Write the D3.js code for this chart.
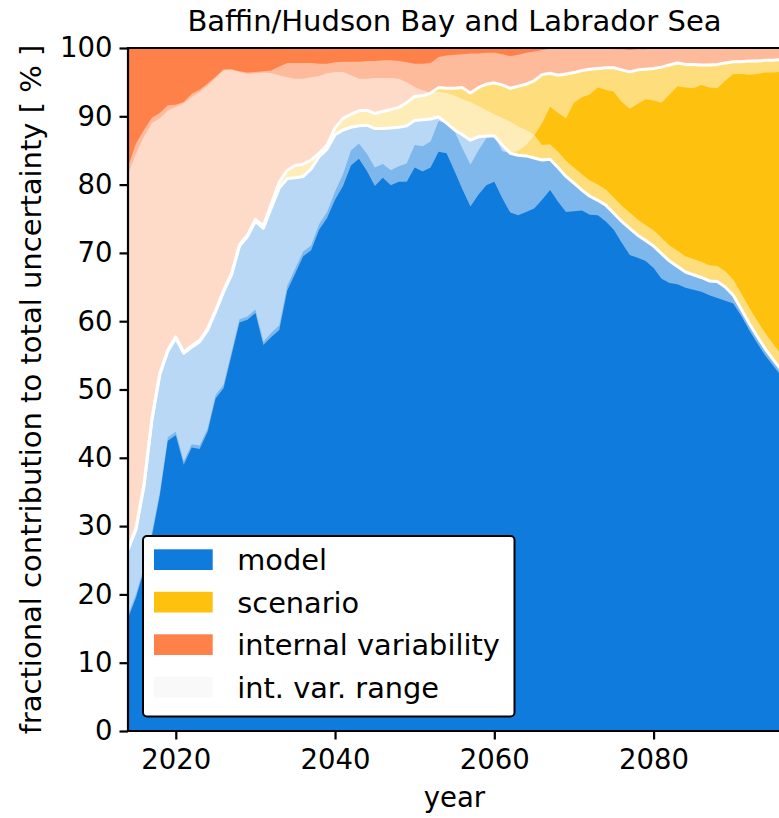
<!DOCTYPE html>
<html>
<head>
<meta charset="utf-8">
<script src="https://cdn.jsdelivr.net/npm/d3@7"></script>
<style>
  html, body { margin: 0; padding: 0; background: #fff; }
  svg { display: block; font-family: "DejaVu Sans", sans-serif; }
</style>
</head>
<body>
<svg id="chart" width="779" height="818"></svg>
<script>
// Years of the projection (annual values)
const years = [
  2014, 2015, 2016, 2017, 2018, 2019, 2020, 2021, 2022, 2023,
  2024, 2025, 2026, 2027, 2028, 2029, 2030, 2031, 2032, 2033,
  2034, 2035, 2036, 2037, 2038, 2039, 2040, 2041, 2042, 2043,
  2044, 2045, 2046, 2047, 2048, 2049, 2050, 2051, 2052, 2053,
  2054, 2055, 2056, 2057, 2058, 2059, 2060, 2061, 2062, 2063,
  2064, 2065, 2066, 2067, 2068, 2069, 2070, 2071, 2072, 2073,
  2074, 2075, 2076, 2077, 2078, 2079, 2080, 2081, 2082, 2083,
  2084, 2085, 2086, 2087, 2088, 2089, 2090, 2091, 2092, 2093,
  2094, 2095, 2096
];

// Fractional contribution of model uncertainty [%]
const model = [
  26.5, 29.5, 35.8, 45.5, 52.2, 55.6, 57.5, 55.3, 56.2, 57.0,
  58.7, 61.4, 64.3, 66.8, 71.0, 72.4, 74.6, 73.6, 76.6, 79.5,
  80.9, 81.0, 81.2, 82.3, 84.1, 85.2, 87.3, 88.0, 88.4, 88.6,
  88.7, 88.2, 88.2, 88.3, 88.4, 88.6, 89.4, 89.5, 89.6, 89.9,
  89.0, 88.0, 87.3, 86.5, 87.0, 87.1, 87.1, 85.8, 84.6, 84.3,
  84.2, 83.9, 83.6, 83.7, 82.5, 81.2, 80.2, 79.2, 78.3, 77.7,
  77.0, 75.8, 74.6, 73.6, 72.6, 71.8, 71.0, 69.9, 68.8, 68.0,
  67.2, 66.8, 66.4, 65.9, 65.8, 65.0, 63.8, 61.8, 59.7, 57.8,
  56.0, 54.4, 52.9
];

// Fractional contribution of scenario uncertainty [%]
const scenario = [
  0.2, 0.2, 0.2, 0.2, 0.2, 0.2, 0.2, 0.2, 0.2, 0.2,
  0.2, 0.2, 0.2, 0.2, 0.2, 0.2, 0.3, 0.4, 0.6, 0.9,
  1.2, 1.8, 1.8, 1.3, 0.5, 0.6, 1.0, 1.7, 1.9, 2.2,
  2.2, 2.2, 2.5, 2.7, 2.9, 3.4, 3.5, 3.5, 3.8, 4.3,
  5.1, 6.1, 6.9, 6.9, 7.2, 7.6, 7.8, 8.8, 9.5, 10.1,
  10.5, 11.3, 12.5, 12.6, 13.5, 15.0, 16.2, 17.5, 18.6, 19.3,
  20.1, 21.3, 22.2, 22.9, 24.2, 25.1, 26.0, 27.3, 28.7, 29.8,
  30.4, 30.8, 31.1, 31.6, 31.8, 32.8, 34.2, 36.2, 38.4, 40.3,
  42.2, 43.8, 45.4
];

// Range of the model / scenario boundary from the spread of internal variability
const modelLow = [
  16.5, 19.5, 23.5, 28.5, 34.5, 42.5, 43.3, 39.0, 41.5, 41.3,
  43.8, 48.7, 50.2, 55.0, 59.8, 60.2, 61.2, 56.5, 57.7, 58.7,
  64.5, 67.0, 69.5, 70.4, 73.4, 75.1, 77.8, 79.8, 82.8, 83.8,
  82.0, 79.8, 81.0, 79.9, 80.4, 80.4, 82.5, 81.9, 82.5, 84.8,
  84.6, 82.0, 79.3, 76.8, 78.5, 79.9, 80.4, 78.0, 75.9, 75.5,
  76.0, 76.5, 77.8, 79.2, 77.5, 76.0, 76.1, 76.2, 75.6, 75.5,
  74.6, 73.4, 71.5, 69.7, 69.3, 68.8, 67.8, 66.2, 65.6, 65.4,
  64.9, 64.6, 64.3, 63.8, 63.4, 63.0, 62.6, 60.8, 58.7, 56.8,
  55.0, 53.5, 52.0
];
const modelHigh = [
  81.5, 84.5, 87.0, 89.0, 89.7, 90.8, 91.4, 91.9, 92.8, 93.6,
  94.5, 95.6, 96.7, 96.8, 96.5, 96.2, 96.3, 96.4, 96.3, 96.0,
  95.7, 95.5, 95.5, 95.7, 95.9, 96.3, 96.5, 96.5, 96.0, 95.5,
  95.5, 95.6, 95.6, 95.6, 95.5, 95.0, 94.3, 93.8, 93.5, 93.6,
  93.4, 93.0, 92.5, 92.1, 91.5, 90.9, 90.3, 89.8, 89.2, 88.5,
  88.0, 87.3, 85.8, 85.9, 84.8, 83.5, 82.5, 81.5, 80.6, 80.0,
  79.3, 78.1, 76.9, 75.9, 74.9, 74.1, 73.3, 72.2, 71.1, 70.3,
  69.5, 69.1, 68.7, 68.2, 68.1, 67.3, 66.1, 64.1, 62.0, 60.1,
  58.3, 56.7, 55.2
];
const scenarioLow = [
  17.0, 20.0, 24.0, 29.0, 35.0, 43.0, 43.8, 39.5, 42.0, 41.8,
  44.3, 49.2, 50.7, 55.5, 60.3, 60.7, 61.7, 57.0, 58.3, 59.4,
  65.2, 67.7, 70.2, 71.1, 74.2, 76.0, 79.0, 81.5, 85.0, 86.0,
  84.5, 82.5, 83.0, 82.1, 82.7, 83.1, 85.8, 85.6, 86.3, 89.3,
  89.0, 87.8, 85.3, 82.9, 85.0, 86.8, 87.1, 84.9, 84.6, 85.0,
  85.8, 87.2, 89.0, 91.4, 90.5, 89.7, 92.0, 92.8, 93.2, 94.2,
  93.9, 93.6, 92.1, 91.1, 91.8, 92.5, 92.3, 92.0, 93.2, 94.4,
  94.2, 94.1, 94.6, 94.2, 94.1, 95.2, 96.2, 96.2, 96.1, 96.2,
  96.4, 96.4, 96.5
];
const scenarioHigh = [
  82.6, 86.0, 88.0, 89.8, 90.5, 91.6, 91.7, 92.1, 93.3, 93.9,
  94.8, 95.8, 96.9, 96.9, 96.6, 96.4, 96.5, 96.6, 96.7, 97.3,
  97.8, 97.8, 97.8, 97.8, 97.7, 97.7, 97.9, 98.0, 98.0, 98.0,
  98.1, 98.1, 98.2, 98.2, 98.1, 97.9, 97.7, 97.7, 97.8, 98.7,
  98.9, 99.0, 99.1, 99.2, 99.2, 99.3, 99.3, 99.1, 98.8, 99.0,
  99.3, 99.5, 99.7, 99.9, 100, 100, 100, 100, 100, 100,
  100, 99.8, 99.8, 99.7, 99.8, 99.8, 100, 100, 100, 100,
  100, 100, 100, 100, 100, 100, 100, 100, 100, 100,
  100, 100, 100
];

const xTicks = [2020, 2040, 2060, 2080];
const yTicks = [0, 10, 20, 30, 40, 50, 60, 70, 80, 90, 100];

const legendLabels = ["model", "scenario", "internal variability", "int. var. range"];
const colors = {
  model: "#0f7bdc",
  scenario: "#fec20e",
  internal: "#fe8149",
  range: "#f9f9f9"
};

const svg = d3.select("#chart");
const plot = { left: 128, right: 781, top: 48, bottom: 731 };

const x = d3.scaleLinear().domain([2014, 2096]).range([plot.left, plot.right]);
const y = d3.scaleLinear().domain([0, 100]).range([plot.bottom, plot.top]);

const total = model.map((m, i) => m + scenario[i]);
const zeros = years.map(() => 0);
const full = years.map(() => 100);

svg.append("defs").append("clipPath").attr("id", "plot-clip")
  .append("rect")
  .attr("x", plot.left).attr("y", plot.top)
  .attr("width", plot.right - plot.left).attr("height", plot.bottom - plot.top);

const band = (lo, hi) => d3.area()
  .x((d, i) => x(years[i]))
  .y0((d, i) => y(lo[i]))
  .y1((d, i) => y(hi[i]))(years);

const line = (vals) => d3.line()
  .x((d, i) => x(years[i]))
  .y((d, i) => y(vals[i]))(years);

const g = svg.append("g").attr("clip-path", "url(#plot-clip)");

// stacked contributions
g.append("path").attr("d", band(zeros, model)).attr("fill", colors.model);
g.append("path").attr("d", band(model, total)).attr("fill", colors.scenario);
g.append("path").attr("d", band(total, full)).attr("fill", colors.internal);

// internal variability ranges of both boundaries
g.append("path").attr("d", band(modelLow, modelHigh))
  .attr("fill", "#ffffff").attr("fill-opacity", 0.46);
g.append("path").attr("d", band(scenarioLow, scenarioHigh))
  .attr("fill", "#ffffff").attr("fill-opacity", 0.46);

// boundaries between components
g.append("path").attr("d", line(model))
  .attr("fill", "none").attr("stroke", "#fff").attr("stroke-width", 3)
  .attr("stroke-linejoin", "round");
g.append("path").attr("d", line(total))
  .attr("fill", "none").attr("stroke", "#fff").attr("stroke-width", 3)
  .attr("stroke-linejoin", "round");

// axes
const fontTick = 27.5;
const yAxis = d3.axisLeft(y).tickValues(yTicks).tickSize(8.5).tickPadding(7);
const xAxis = d3.axisBottom(x).tickValues(xTicks).tickFormat(d3.format("d"))
  .tickSize(8.5).tickPadding(9.5);

const ya = svg.append("g").attr("transform", `translate(${plot.left},0)`).call(yAxis);
const xa = svg.append("g").attr("transform", `translate(0,${plot.bottom})`).call(xAxis);
[ya, xa].forEach(a => {
  a.select(".domain").remove();
  a.selectAll(".tick line").attr("stroke", "#000").attr("stroke-width", 2.2);
  a.selectAll(".tick text").attr("fill", "#000")
    .style("font-size", fontTick + "px").style("font-family", "DejaVu Sans");
});

// spines
const spine = svg.append("g").attr("stroke", "#000").attr("stroke-width", 2.2)
  .attr("stroke-linecap", "square").attr("fill", "none");
spine.append("line").attr("x1", plot.left).attr("x2", plot.left)
  .attr("y1", plot.top).attr("y2", plot.bottom);
spine.append("line").attr("x1", plot.left).attr("x2", plot.right)
  .attr("y1", plot.bottom).attr("y2", plot.bottom);
spine.append("line").attr("x1", plot.left).attr("x2", plot.right)
  .attr("y1", plot.top).attr("y2", plot.top);
spine.append("line").attr("x1", plot.right).attr("x2", plot.right)
  .attr("y1", plot.top).attr("y2", plot.bottom);

// titles
const cx = (plot.left + plot.right) / 2;
svg.append("text").attr("x", cx).attr("y", 31).attr("text-anchor", "middle")
  .style("font-size", "29px").text("Baffin/Hudson Bay and Labrador Sea");
svg.append("text").attr("x", cx).attr("y", 807).attr("text-anchor", "middle")
  .style("font-size", "27.5px").text("year");
svg.append("text")
  .attr("transform", `translate(41,${(plot.top + plot.bottom) / 2}) rotate(-90)`)
  .attr("text-anchor", "middle")
  .style("font-size", "29px")
  .text("fractional contribution to total uncertainty [ % ]");

// legend
const legend = svg.append("g");
legend.append("rect").attr("x", 143).attr("y", 536).attr("width", 371.5).attr("height", 180.5)
  .attr("rx", 4).attr("fill", "#fff").attr("stroke", "#000").attr("stroke-width", 2);
const legendColors = [colors.model, colors.scenario, colors.internal, colors.range];
legendLabels.forEach((lab, i) => {
  const top = 549.3 + i * 42.5;
  legend.append("rect").attr("x", 154).attr("y", top).attr("width", 58.7).attr("height", 20.7)
    .attr("fill", legendColors[i]);
  legend.append("text").attr("x", 237.3).attr("y", top + 20.7)
    .style("font-size", "28.8px").text(lab);
});
</script>
</body>
</html>
